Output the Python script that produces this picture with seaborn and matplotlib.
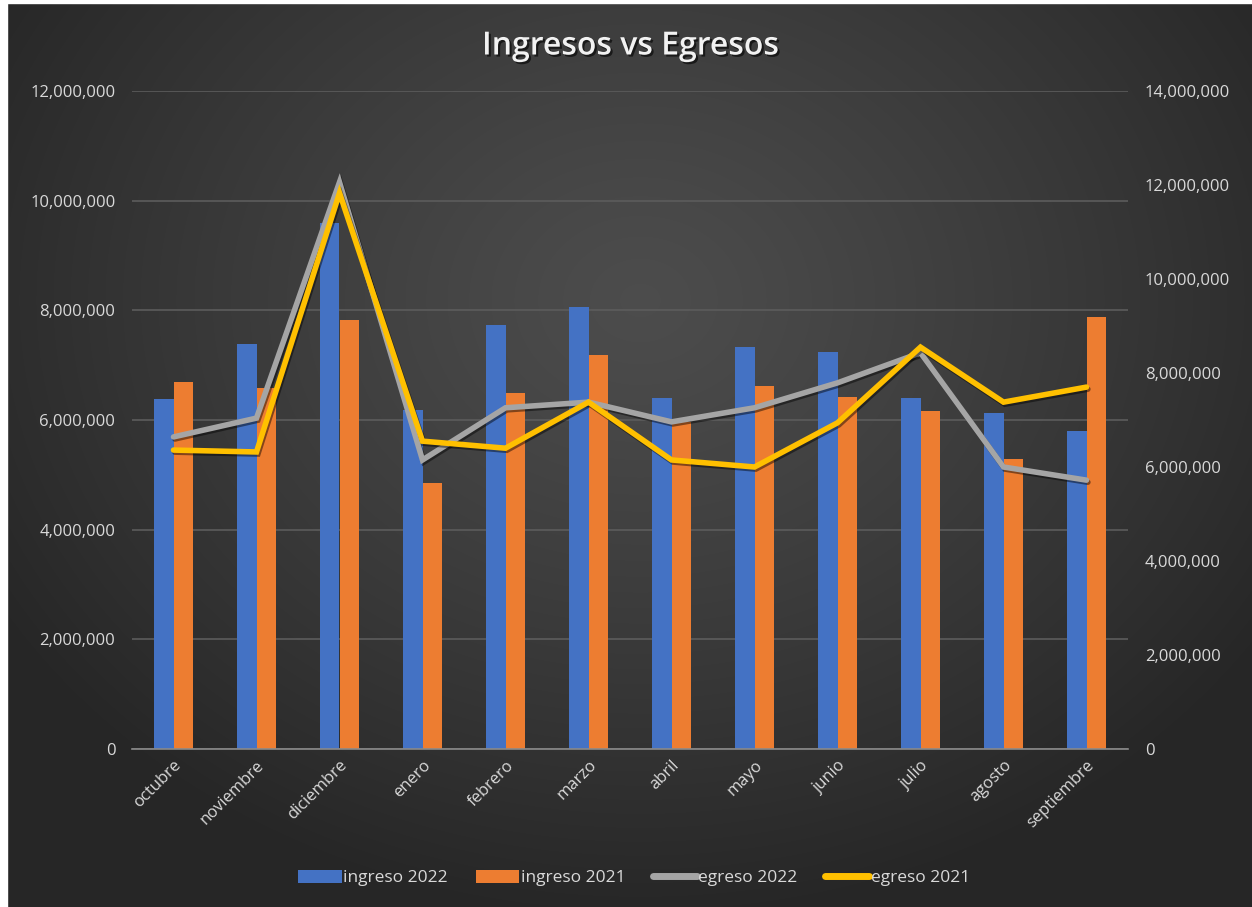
import numpy as np
import pandas as pd
import matplotlib
matplotlib.use("Agg")
import matplotlib.pyplot as plt
import matplotlib.patheffects as pe
from matplotlib.ticker import FuncFormatter, MultipleLocator
from matplotlib.patches import Patch, Rectangle
from matplotlib.lines import Line2D
import seaborn as sns

# ---------------- data ----------------
months = ["octubre", "noviembre", "diciembre", "enero", "febrero", "marzo",
          "abril", "mayo", "junio", "julio", "agosto", "septiembre"]
ingreso_2022 = [6380000, 7390000, 9590000, 6180000, 7730000, 8060000,
                6400000, 7330000, 7240000, 6400000, 6130000, 5800000]
ingreso_2021 = [6690000, 6580000, 7820000, 4850000, 6490000, 7190000,
                5960000, 6620000, 6420000, 6160000, 5290000, 7880000]
egreso_2022 = [6640000, 7040000, 12060000, 6150000, 7260000, 7380000,
               6960000, 7260000, 7790000, 8430000, 6000000, 5720000]
egreso_2021 = [6360000, 6320000, 11830000, 6550000, 6400000, 7380000,
               6150000, 6000000, 6940000, 8550000, 7380000, 7700000]
bar_series = ["ingreso 2022", "ingreso 2021"]
line_series = ["egreso 2022", "egreso 2021"]
title = "Ingresos vs Egresos"

BLUE, ORANGE, GRAY, YELLOW = "#4472C4", "#ED7D31", "#A5A5A5", "#FFC000"
TXT = "#D9D9D9"

sns.set_style("dark")
plt.rcParams["font.family"] = ["Open Sans", "DejaVu Sans"]

W, H = 1252, 907
fig = plt.figure(figsize=(W / 100, H / 100), dpi=100, facecolor="#2b2b2b")

# background radial gradient
bg = fig.add_axes([0, 0, 1, 1])
bg.set_axis_off()
yy, xx = np.mgrid[0:H, 0:W]
cx, cy = 640, 300
r = np.sqrt(((xx - cx) / 750.0) ** 2 + ((yy - cy) / 620.0) ** 2)
r = np.clip(r, 0, 1)
lum = 0.30 - 0.15 * r ** 1.2
img = np.dstack([lum, lum, lum])
bg.imshow(img, aspect="auto", extent=[0, 1, 0, 1], interpolation="bilinear")
bg.set_xlim(0, 1)
bg.set_ylim(0, 1)
# thin white strips on left and top (as in the screenshot)
bg.add_patch(Rectangle((0, 0), 7 / W, 1, color="white", transform=bg.transAxes, zorder=5))
bg.add_patch(Rectangle((0, 1 - 3 / H), 1, 3 / H, color="white", transform=bg.transAxes, zorder=5))
bg.set_zorder(-10)

# main axes
left, right = 132 / W, 1128 / W
bottom, top = 1 - 749 / H, 1 - 91 / H
ax = fig.add_axes([left, bottom, right - left, top - bottom])
ax.set_facecolor("none")

df_bars = pd.DataFrame({
    "month": months * 2,
    "value": ingreso_2022 + ingreso_2021,
    "serie": [bar_series[0]] * len(months) + [bar_series[1]] * len(months),
})
sns.barplot(data=df_bars, x="month", y="value", hue="serie", order=months,
            hue_order=bar_series, palette=[BLUE, ORANGE], width=0.46, gap=0,
            saturation=1, ax=ax, legend=False, zorder=2,
            edgecolor="none", linewidth=0)

ax.set_ylim(0, 12000000)
ax.set_xlim(-0.5, len(months) - 0.5)
ax.yaxis.set_major_locator(MultipleLocator(2000000))
fmt = FuncFormatter(lambda v, p: f"{v:,.0f}")
ax.yaxis.set_major_formatter(fmt)
ax.grid(axis="y", color="#5c5c5c", linewidth=1.2, zorder=0)
ax.grid(axis="x", visible=False)
ax.set_axisbelow(True)
for s in ["top", "right", "left"]:
    ax.spines[s].set_visible(False)
ax.spines["bottom"].set_color("#8a8a8a")
ax.spines["bottom"].set_linewidth(1.2)
ax.tick_params(axis="both", length=0, colors=TXT, labelsize=12)
ax.tick_params(axis="y", pad=12)
ax.tick_params(axis="x", pad=6)
ax.set_xlabel("")
ax.set_ylabel("")
plt.setp(ax.get_xticklabels(), rotation=45, ha="right", rotation_mode="anchor",
         color=TXT, fontsize=12)

# secondary axis lines
ax2 = ax.twinx()
ax2.set_facecolor("none")
xpos = np.arange(len(months))
df_lines = pd.DataFrame({
    "x": np.concatenate([xpos, xpos]),
    "value": egreso_2022 + egreso_2021,
    "serie": [line_series[0]] * len(months) + [line_series[1]] * len(months),
})
sns.lineplot(data=df_lines, x="x", y="value", hue="serie", hue_order=line_series,
             palette=[GRAY, YELLOW], linewidth=4, ax=ax2, legend=False, sort=False)
for ln in ax2.get_lines():
    ln.set_path_effects([pe.SimpleLineShadow(offset=(1, -1.5), alpha=0.45, shadow_color="black"),
                         pe.Normal()])
    ln.set_solid_joinstyle("miter")
ax2.set_ylim(0, 14000000)
ax2.set_xlim(-0.5, len(months) - 0.5)
ax2.yaxis.set_major_locator(MultipleLocator(2000000))
ax2.yaxis.set_major_formatter(fmt)
ax2.grid(False)
for s in ax2.spines.values():
    s.set_visible(False)
ax2.tick_params(axis="y", length=0, colors=TXT, labelsize=12, pad=12)
ax2.set_xlabel("")
ax2.set_ylabel("")

# title
fig.text(631 / W, 1 - 46 / H, title, ha="center", va="center", fontsize=23,
         fontweight="semibold", color="#F2F2F2",
         path_effects=[pe.withSimplePatchShadow(offset=(1.5, -1.5), alpha=0.6,
                                                 shadow_rgbFace="black")])

# legend
handles = [
    Patch(facecolor=BLUE, edgecolor="none", label=bar_series[0]),
    Patch(facecolor=ORANGE, edgecolor="none", label=bar_series[1]),
    Line2D([0], [0], color=GRAY, linewidth=5, solid_capstyle="round", label=line_series[0]),
    Line2D([0], [0], color=YELLOW, linewidth=5, solid_capstyle="round", label=line_series[1]),
]
leg = fig.legend(handles=handles, loc="center", bbox_to_anchor=(634 / W, 1 - 878 / H),
                 ncol=4, frameon=False, fontsize=12.5, handlelength=2.5,
                 handletextpad=0.1, columnspacing=1.6, handleheight=0.75)
for t in leg.get_texts():
    t.set_color(TXT)

fig.savefig("out.png", dpi=100, facecolor=fig.get_facecolor())
